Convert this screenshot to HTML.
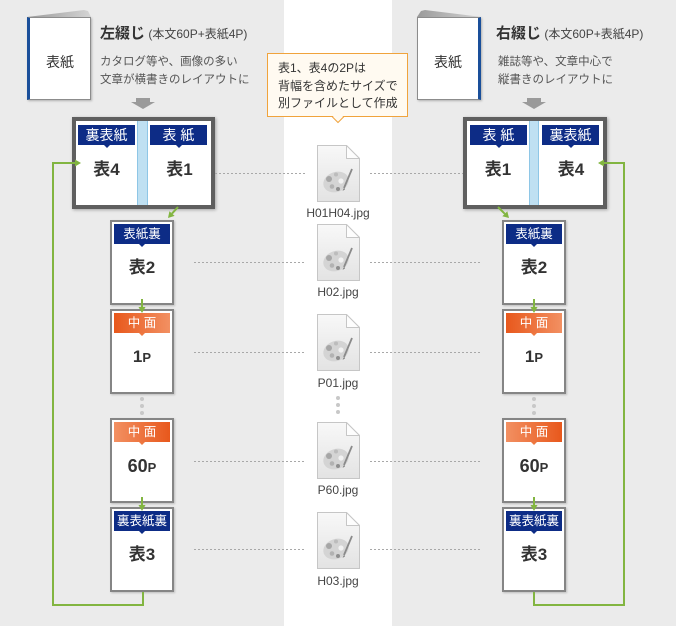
<!DOCTYPE html>
<html><head><meta charset="utf-8">
<style>
*{margin:0;padding:0;box-sizing:border-box}
body{width:676px;height:626px;background:#ebebeb;position:relative;overflow:hidden;font-family:"Liberation Sans","Noto Sans CJK JP",sans-serif;color:#333}
.a{position:absolute}
.strip{left:284px;top:0;width:108px;height:626px;background:#fff}
.book{background:#fff;border:1px solid #8c8c8c;box-shadow:1px 1px 2px rgba(0,0,0,.25);font-size:14px;text-align:center;line-height:88px;color:#333;width:64px;height:83px;top:17px}
.title{font-size:15px;font-weight:bold;line-height:18px;top:25px;white-space:nowrap;color:#333}
.title span{font-size:12px;font-weight:normal;color:#444}
.desc{font-size:11.5px;line-height:18px;top:53px;color:#555;white-space:nowrap}
.spread{border:4px solid #5f5f5f;background:#fff;box-shadow:1px 1px 3px rgba(0,0,0,.3);top:117px;height:92px}
.spine{top:0;height:84px;background:#bfe0f2;border-left:1px solid #8ec6e6;border-right:1px solid #8ec6e6}
.lab{height:20px;line-height:20px;color:#fff;text-align:center;background:#0d2c86;white-space:nowrap}
.lab:after{content:"";position:absolute;left:50%;margin-left:-3px;top:20px;border-left:3px solid transparent;border-right:3px solid transparent;border-top:3px solid #0d2c86}
.sl{top:4px;width:57px;font-size:14px}
.tl{top:2px;left:2px;width:56px;font-size:12.5px}
.or1{background:linear-gradient(to right,#e8581c,#f29062)}
.or2{background:linear-gradient(to right,#f29062,#e8581c)}
.or1:after,.or2:after{border-top-color:#ee7840}
.big{font-size:17px;font-weight:bold;text-align:center;height:20px;line-height:20px;color:#333;white-space:nowrap}
.big small{font-size:13px}
.page{width:64px;height:85px;border:2px solid #858585;background:#fff;box-shadow:1px 1px 2px rgba(0,0,0,.2)}
.page .big{top:36px;left:0;width:60px}
.fn{font-size:12px;color:#444;width:90px;text-align:center;left:293px;height:14px;line-height:14px}
.call{left:267px;top:53px;width:141px;height:64px;border:1px solid #f0a33c;background:#fffaf1;font-size:12px;line-height:17.5px;padding:6px 0 0 10px;color:#333;white-space:nowrap}
</style></head><body>
<div class="a strip"></div>

<!-- LEFT -->
<div class="a book" style="left:27px;border-left:3px solid #1a4f9a">表紙</div>
<div class="a title" style="left:100px">左綴じ<span> (本文60P+表紙4P)</span></div>
<div class="a desc" style="left:100px">カタログ等や、画像の多い<br>文章が横書きのレイアウトに</div>

<div class="a spread" style="left:72px;width:143px">
  <div class="a lab sl" style="left:2px">裏表紙</div>
  <div class="a spine" style="left:61px;width:11px"></div>
  <div class="a lab sl" style="left:74px">表 紙</div>
  <div class="a big" style="top:39px;left:0;width:61px">表4</div>
  <div class="a big" style="top:39px;left:72px;width:63px">表1</div>
</div>

<div class="a page" style="left:110px;top:220px"><div class="a lab tl">表紙裏</div><div class="a big">表2</div></div>
<div class="a page" style="left:110px;top:309px"><div class="a lab tl or1">中&nbsp;面</div><div class="a big">1<small>P</small></div></div>
<div class="a page" style="left:110px;top:418px"><div class="a lab tl or2">中&nbsp;面</div><div class="a big" style="font-size:18px">60<small>P</small></div></div>
<div class="a page" style="left:110px;top:507px"><div class="a lab tl">裏表紙裏</div><div class="a big">表3</div></div>

<!-- RIGHT -->
<div class="a book" style="left:417px;border-right:3px solid #1a4f9a">表紙</div>
<div class="a title" style="left:496px">右綴じ<span> (本文60P+表紙4P)</span></div>
<div class="a desc" style="left:498px">雑誌等や、文章中心で<br>縦書きのレイアウトに</div>

<div class="a spread" style="left:463px;width:144px">
  <div class="a lab sl" style="left:3px">表 紙</div>
  <div class="a spine" style="left:62px;width:10px"></div>
  <div class="a lab sl" style="left:75px">裏表紙</div>
  <div class="a big" style="top:39px;left:0;width:62px">表1</div>
  <div class="a big" style="top:39px;left:72px;width:64px">表4</div>
</div>

<div class="a page" style="left:502px;top:220px"><div class="a lab tl">表紙裏</div><div class="a big">表2</div></div>
<div class="a page" style="left:502px;top:309px"><div class="a lab tl or1">中&nbsp;面</div><div class="a big">1<small>P</small></div></div>
<div class="a page" style="left:502px;top:418px"><div class="a lab tl or2">中&nbsp;面</div><div class="a big" style="font-size:18px">60<small>P</small></div></div>
<div class="a page" style="left:502px;top:507px"><div class="a lab tl">裏表紙裏</div><div class="a big">表3</div></div>

<!-- CENTER -->
<div class="a call">表1、表4の2Pは<br>背幅を含めたサイズで<br>別ファイルとして作成</div>
<div class="a fn" style="top:206px">H01H04.jpg</div>
<div class="a fn" style="top:285px">H02.jpg</div>
<div class="a fn" style="top:376px">P01.jpg</div>
<div class="a fn" style="top:483px">P60.jpg</div>
<div class="a fn" style="top:574px">H03.jpg</div>

<svg class="a" style="left:0;top:0" width="676" height="626">
<defs>
<linearGradient id="fg" x1="0" y1="0" x2="0" y2="1"><stop offset="0" stop-color="#f8f8f8"/><stop offset="1" stop-color="#e3e3e3"/></linearGradient>
<linearGradient id="bt" x1="0" y1="0" x2="1" y2="0"><stop offset="0" stop-color="#9a9a9a"/><stop offset="1" stop-color="#d4d4d4"/></linearGradient>
<symbol id="fi" viewBox="0 0 43 57">
 <path d="M0.5 0.5H29.5L42.5 13.5V56.5H0.5Z" fill="url(#fg)" stroke="#c6c6c6"/>
 <path d="M29.5 0.5V13.5H42.5Z" fill="#fdfdfd" stroke="#c6c6c6" stroke-linejoin="round"/>
 <ellipse cx="19" cy="37" rx="13" ry="10" transform="rotate(-20 19 37)" fill="#d4d4d4"/>
 <circle cx="12" cy="34" r="3" fill="#a6a6a6"/>
 <circle cx="15" cy="41.5" r="2.3" fill="#b2b2b2"/>
 <circle cx="21" cy="44" r="2" fill="#8e8e8e"/>
 <circle cx="24" cy="36" r="2.6" fill="#f2f2f2"/>
 <circle cx="19" cy="29.5" r="2" fill="#bcbcbc"/>
 <path d="M35 24L27 43" stroke="#8a8a8a" stroke-width="1.8"/>
 <path d="M27 43l-1.5 3 2.6-1.8z" fill="#777"/>
</symbol>
</defs>

<!-- book tops -->
<polygon points="27,17 84,10 88,11 91,17" fill="url(#bt)"/>
<polygon points="417,17 421,11 425,10 482,17" fill="url(#bt)"/>

<!-- gray arrows -->
<polygon points="136,98 150,98 150,102 155,102 143,109 131,102 136,102" fill="#9a9a9a"/>
<polygon points="527,98 541,98 541,102 546,102 534,109 522,102 527,102" fill="#9a9a9a"/>

<!-- callout pointer -->
<polygon points="332,115 344,115 338,122.5" fill="#fffaf1"/>
<polyline points="332,116.5 338,122.5 344,116.5" fill="none" stroke="#f0a33c" stroke-width="1"/>

<!-- dotted connectors -->
<g stroke="#a8a8a8" stroke-width="1" stroke-dasharray="2 2">
<line x1="215" y1="173.5" x2="305" y2="173.5"/><line x1="370" y1="173.5" x2="463" y2="173.5"/>
<line x1="194" y1="262.5" x2="305" y2="262.5"/><line x1="370" y1="262.5" x2="480" y2="262.5"/>
<line x1="194" y1="352.5" x2="305" y2="352.5"/><line x1="370" y1="352.5" x2="480" y2="352.5"/>
<line x1="194" y1="461.5" x2="305" y2="461.5"/><line x1="370" y1="461.5" x2="480" y2="461.5"/>
<line x1="194" y1="549.5" x2="305" y2="549.5"/><line x1="370" y1="549.5" x2="480" y2="549.5"/>
</g>

<!-- file icons -->
<use href="#fi" x="317" y="145" width="43" height="57"/>
<use href="#fi" x="317" y="224" width="43" height="57"/>
<use href="#fi" x="317" y="314" width="43" height="57"/>
<use href="#fi" x="317" y="422" width="43" height="57"/>
<use href="#fi" x="317" y="512" width="43" height="57"/>

<!-- gray dots -->
<g fill="#c8c8c8">
<circle cx="142" cy="399" r="2"/><circle cx="142" cy="406" r="2"/><circle cx="142" cy="413" r="2"/>
<circle cx="338" cy="398" r="2"/><circle cx="338" cy="405" r="2"/><circle cx="338" cy="412" r="2"/>
<circle cx="534" cy="399" r="2"/><circle cx="534" cy="406" r="2"/><circle cx="534" cy="413" r="2"/>
</g>

<!-- green connectors -->
<g stroke="#82b541" stroke-width="2" fill="none">
<polyline points="143,592 143,605 53,605 53,163 76,163"/>
<polyline points="534,592 534,605 624,605 624,163 603,163"/>
<line x1="142" y1="299" x2="142" y2="308"/>
<line x1="142" y1="497" x2="142" y2="506"/>
<line x1="534" y1="299" x2="534" y2="308"/>
<line x1="534" y1="497" x2="534" y2="506"/>
<line x1="178" y1="207" x2="172" y2="213.6"/>
<line x1="498" y1="207" x2="504.8" y2="213.8"/>
</g>
<g fill="#82b541">
<polygon points="81,163 75,159.5 75,166.5"/>
<polygon points="598,163 604,159.5 604,166.5"/>
<polygon points="142,313 138.5,307 145.5,307"/>
<polygon points="142,511 138.5,505 145.5,505"/>
<polygon points="534,313 530.5,307 537.5,307"/>
<polygon points="534,511 530.5,505 537.5,505"/>
<polygon points="168,218 174.6,215.9 169.4,211.3"/>
<polygon points="509,218 502.3,216.3 507.3,211.3"/>
</g>
</svg>
</body></html>
